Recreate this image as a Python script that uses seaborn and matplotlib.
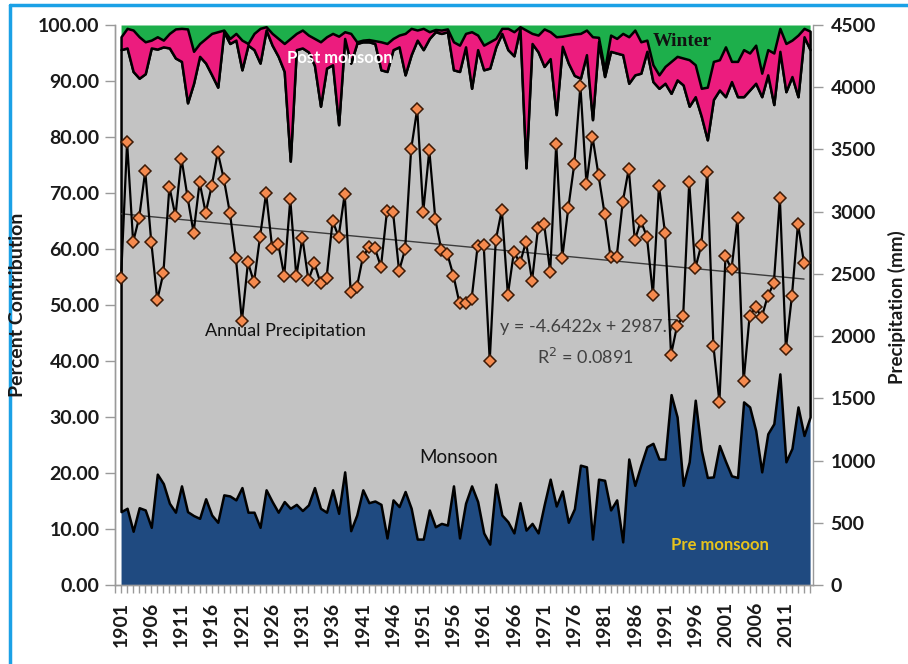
import numpy as np
import pandas as pd
import matplotlib
matplotlib.use("Agg")
import matplotlib.pyplot as plt
import seaborn as sns
from matplotlib.lines import Line2D
from matplotlib.ticker import FixedLocator, MultipleLocator

# --- Visual Styling ---
sns.set_theme(style="white")
plt.rcParams['font.family'] = ['Lato', 'DejaVu Sans']

color_pre = "#1F4A80"
color_monsoon = "#C3C3C3"
color_post = "#EC1C7E"
color_winter = "#1DAF4B"
axis_grey = "#9a9a9a"

# --- Data (percent contribution of each season, 1901-2015) ---
years = list(range(1901, 2016))

pre_monsoon = [
    13.1, 13.7, 9.6, 13.8, 13.4, 10.3, 19.8, 18.1, 14.6, 13.0,
    17.7, 13.1, 12.4, 11.9, 15.4, 12.5, 11.2, 16.1, 15.9, 15.2,
    17.4, 13.0, 13.0, 10.3, 17.0, 14.9, 13.0, 14.9, 13.7, 14.4,
    13.3, 14.3, 17.4, 13.7, 13.0, 17.0, 12.8, 20.2, 9.7, 12.5,
    17.0, 14.7, 15.0, 14.4, 8.4, 15.2, 14.0, 16.7, 13.7, 8.2,
    8.2, 13.4, 10.4, 11.0, 10.7, 17.7, 8.4, 14.6, 17.7, 14.9,
    9.3, 7.3, 18.0, 12.5, 11.3, 9.3, 14.7, 9.8, 11.0, 9.3,
    14.3, 18.9, 14.1, 16.8, 11.2, 13.6, 21.4, 21.1, 8.2, 18.9,
    18.7, 13.4, 15.2, 7.7, 22.5, 17.8, 21.4, 24.7, 25.3, 22.5,
    22.5, 34.0, 30.0, 17.8, 22.0, 33.0, 24.1, 19.2, 19.3, 24.9,
    22.1, 19.5, 19.2, 32.7, 31.8, 27.6, 20.2, 27.0, 28.8, 37.7,
    22.0, 24.4, 31.8, 26.7, 30.0,
]

monsoon = [
    82.5, 82.2, 82.1, 76.7, 77.9, 85.6, 75.9, 78.0, 81.3, 81.1,
    75.8, 73.0, 77.2, 82.5, 77.8, 78.6, 77.7, 82.7, 80.8, 82.1,
    74.6, 83.4, 82.6, 82.9, 82.1, 81.5, 81.4, 76.8, 62.0, 81.2,
    82.6, 80.9, 75.4, 71.8, 79.3, 75.9, 69.4, 77.4, 83.5, 84.2,
    80.0, 82.3, 81.7, 77.6, 83.3, 80.4, 82.1, 74.4, 81.0, 89.1,
    87.4, 84.2, 88.4, 87.5, 88.1, 74.3, 83.3, 81.5, 71.0, 80.7,
    82.7, 85.0, 78.1, 86.0, 84.3, 85.2, 84.7, 64.7, 85.7, 85.9,
    78.3, 75.1, 69.9, 79.4, 82.0, 77.4, 69.1, 73.6, 74.9, 78.1,
    72.1, 81.9, 79.8, 87.0, 67.1, 73.3, 70.0, 70.6, 64.6, 66.2,
    67.1, 53.8, 60.2, 71.5, 63.5, 54.2, 59.6, 60.3, 67.4, 63.5,
    65.1, 70.4, 68.0, 54.5, 56.6, 62.0, 67.0, 64.1, 57.0, 57.6,
    66.1, 66.4, 55.4, 71.2, 65.6,
]

post_monsoon = [
    2.3, 3.5, 7.4, 7.4, 5.7, 1.4, 2.2, 1.2, 2.6, 5.2,
    5.9, 13.2, 5.7, 2.3, 4.4, 7.4, 9.9, 0.3, 0.9, 1.2,
    5.3, 0.3, 2.9, 6.2, 0.6, 2.1, 3.2, 5.0, 21.9, 2.9,
    3.2, 3.0, 4.8, 11.5, 5.6, 5.6, 15.8, 1.2, 5.3, 0.3,
    0.3, 0.4, 0.5, 5.0, 5.0, 2.0, 2.1, 7.4, 4.7, 1.8,
    3.8, 1.2, 0.4, 0.6, 0.5, 5.0, 4.7, 2.4, 10.1, 2.6,
    4.4, 4.7, 1.5, 0.9, 3.8, 4.3, 0.3, 24.6, 1.8, 3.0,
    6.7, 4.8, 13.9, 1.8, 5.0, 7.4, 8.0, 4.4, 14.8, 0.8,
    1.2, 2.9, 2.6, 3.8, 8.3, 8.0, 5.6, 2.0, 3.0, 2.4,
    3.0, 5.7, 4.2, 4.8, 8.3, 5.7, 5.0, 9.4, 6.8, 5.4,
    8.9, 3.6, 6.3, 8.4, 6.6, 6.8, 4.2, 4.5, 9.2, 4.1,
    8.6, 6.5, 11.0, 1.5, 3.3,
]

winter = [
    2.1, 0.6, 0.9, 2.1, 3.0, 2.7, 2.1, 2.7, 1.5, 0.7,
    0.6, 0.7, 4.7, 3.3, 2.4, 1.5, 1.2, 0.9, 2.4, 1.5,
    2.7, 3.3, 1.5, 0.6, 0.3, 1.5, 2.4, 3.3, 2.4, 1.5,
    0.9, 1.8, 2.4, 3.0, 2.1, 1.5, 2.0, 1.2, 1.5, 3.0,
    2.7, 2.6, 2.8, 3.0, 3.3, 2.4, 1.8, 1.5, 0.6, 0.9,
    0.6, 1.2, 0.8, 0.9, 0.7, 3.0, 3.6, 1.5, 1.2, 1.8,
    3.6, 3.0, 2.4, 0.6, 0.6, 1.2, 0.3, 0.9, 1.5, 1.8,
    0.7, 1.2, 2.1, 2.0, 1.8, 1.6, 1.5, 0.9, 2.1, 2.2,
    8.0, 1.8, 2.4, 1.5, 2.1, 0.9, 3.0, 2.7, 7.1, 8.9,
    7.4, 6.5, 5.6, 5.9, 6.2, 7.1, 11.3, 11.1, 6.5, 6.2,
    3.9, 6.5, 6.5, 4.4, 5.0, 3.6, 8.6, 4.4, 5.0, 0.6,
    3.3, 2.7, 1.8, 0.6, 1.1,
]

# --- Annual precipitation (mm), 1901-2014 ---
precip_years = list(range(1901, 2015))
annual_precip = [
    2466, 3558, 2757, 2952, 3325, 2757, 2293, 2504, 3200, 2965,
    3427, 3118, 2832, 3235, 2992, 3205, 3477, 3264, 2992, 2626,
    2124, 2592, 2432, 2800, 3147, 2712, 2744, 2485, 3098, 2480,
    2792, 2450, 2586, 2424, 2466, 2925, 2800, 3139, 2352, 2392,
    2632, 2717, 2706, 2557, 3005, 2997, 2525, 2698, 3504, 3825,
    3000, 3493, 2939, 2690, 2658, 2485, 2264, 2264, 2298, 2725,
    2733, 1804, 2773, 3013, 2333, 2677, 2586, 2757, 2445, 2872,
    2899, 2517, 3547, 2629, 3032, 3387, 4011, 3225, 3601, 3293,
    2984, 2632, 2637, 3077, 3344, 2770, 2925, 2800, 2333, 3205,
    2832, 1852, 2084, 2160, 3235, 2544, 2730, 3320, 1924, 1471,
    2640, 2538, 2952, 1636, 2164, 2231, 2151, 2324, 2424, 3110,
    1898, 2324, 2904, 2584,
]

# Excel linear trendline as printed on the chart
trend_slope = -4.6422
trend_intercept = 2987.7

# --- Figure ---
W, H = 908, 664
fig = plt.figure(figsize=(W / 100, H / 100), dpi=100)
ax = fig.add_axes([115 / W, 1 - 585 / H, 697.5 / W, 560 / H])

polys = ax.stackplot(years, pre_monsoon, monsoon, post_monsoon, winter,
                     colors=[color_pre, color_monsoon, color_post, color_winter],
                     linewidth=0)
# grey and pink areas carry the black outlines
polys[0].set_zorder(1)
polys[3].set_zorder(1)
for z, p in zip([2, 3], polys[1:3]):
    p.set_edgecolor("black")
    p.set_linewidth(1.8)
    p.set_zorder(z)

ax.set_xlim(1900, 2015.4)
ax.set_ylim(0, 100)

# --- Secondary axis: annual precipitation ---
ax2 = ax.twinx()
df_p = pd.DataFrame({"year": precip_years, "precip": annual_precip})
df_p["idx"] = np.arange(1, len(df_p) + 1)
df_p["trend"] = trend_intercept + trend_slope * df_p["idx"]

sns.lineplot(data=df_p, x="year", y="trend", ax=ax2, color="#3c3c3c", linewidth=1.0)
sns.lineplot(data=df_p, x="year", y="precip", ax=ax2, color="black", linewidth=1.6,
             marker="D", markersize=6.5, markerfacecolor="#F58A4E",
             markeredgecolor="#3d1a06", markeredgewidth=1.1)
ax2.set_ylim(0, 4500)
ax2.set_xlim(1900, 2015.4)
ax2.set_xlabel("")
ax2.set_ylabel("")

# --- Ticks ---
tick_font = dict(fontsize=14, fontweight="bold", color="#1a1a1a")
ax.set_yticks(np.arange(0, 101, 10))
ax.set_yticklabels([f"{v:.2f}" for v in np.arange(0, 101, 10)], **tick_font)
ax2.set_yticks(np.arange(0, 4501, 500))
ax2.set_yticklabels([str(v) for v in np.arange(0, 4501, 500)], **tick_font)

label_years = list(range(1901, 2012, 5))
ax.xaxis.set_major_locator(FixedLocator(label_years))
ax.xaxis.set_minor_locator(MultipleLocator(1))
ax.set_xticklabels([str(y) for y in label_years], rotation=90, **tick_font)

ax.tick_params(axis="x", which="both", bottom=True, direction="out", length=6,
               width=1, color=axis_grey, pad=6)
ax.tick_params(axis="y", left=True, direction="out", length=7, width=1,
               color=axis_grey, pad=4)
ax2.tick_params(axis="y", right=True, direction="out", length=7, width=1,
                color=axis_grey, pad=6)

for a in (ax, ax2):
    a.spines["top"].set_visible(False)
    for s in ("left", "bottom", "right"):
        a.spines[s].set_color(axis_grey)
        a.spines[s].set_linewidth(1.0)
ax.spines["right"].set_visible(False)

# --- Labels inside the plot ---
ax.text((340 - 115) / 697.5, (585 - 58) / 560, "Post monsoon", transform=ax.transAxes,
        ha="center", va="center", fontsize=12, fontweight="bold", color="white")
ax.text((682 - 115) / 697.5, (585 - 42) / 560, "Winter", transform=ax.transAxes,
        ha="center", va="center", fontsize=14, fontweight="bold", color="#111111",
        family=["Liberation Serif", "DejaVu Serif"])
ax.text((285 - 115) / 697.5, (585 - 331) / 560, "Annual Precipitation", transform=ax.transAxes,
        ha="center", va="center", fontsize=13, color="#111111")
ax.text((589 - 115) / 697.5, (585 - 327) / 560, "y = -4.6422x + 2987.7", transform=ax.transAxes,
        ha="center", va="center", fontsize=13, color="#404040")
ax.text((585 - 115) / 697.5, (585 - 357) / 560, "R$^2$ = 0.0891", transform=ax.transAxes,
        ha="center", va="center", fontsize=13, color="#404040")
ax.text((459 - 115) / 697.5, (585 - 458) / 560, "Monsoon", transform=ax.transAxes,
        ha="center", va="center", fontsize=13.5, color="#111111")
ax.text((720 - 115) / 697.5, (585 - 545) / 560, "Pre monsoon", transform=ax.transAxes,
        ha="center", va="center", fontsize=12, fontweight="bold", color="#E6C21C")

# --- Axis titles ---
fig.text(18 / W, 1 - 305 / H, "Percent Contribution", rotation=90, ha="center", va="center",
         fontsize=14, fontweight="bold", color="#1a1a1a")
fig.text(897 / W, 1 - 307 / H, "Precipitation (mm)", rotation=90, ha="center", va="center",
         fontsize=13.5, fontweight="bold", color="#1a1a1a")

# --- Blue frame around the figure ---
frame_col = "#1BA1E6"
fig.add_artist(Line2D([10 / W, 10 / W], [0, 1 - 5 / H], transform=fig.transFigure,
                      color=frame_col, linewidth=2.5))
fig.add_artist(Line2D([10 / W, 1], [1 - 5 / H, 1 - 5 / H], transform=fig.transFigure,
                      color=frame_col, linewidth=2.5))

fig.savefig("out.png", dpi=100)
